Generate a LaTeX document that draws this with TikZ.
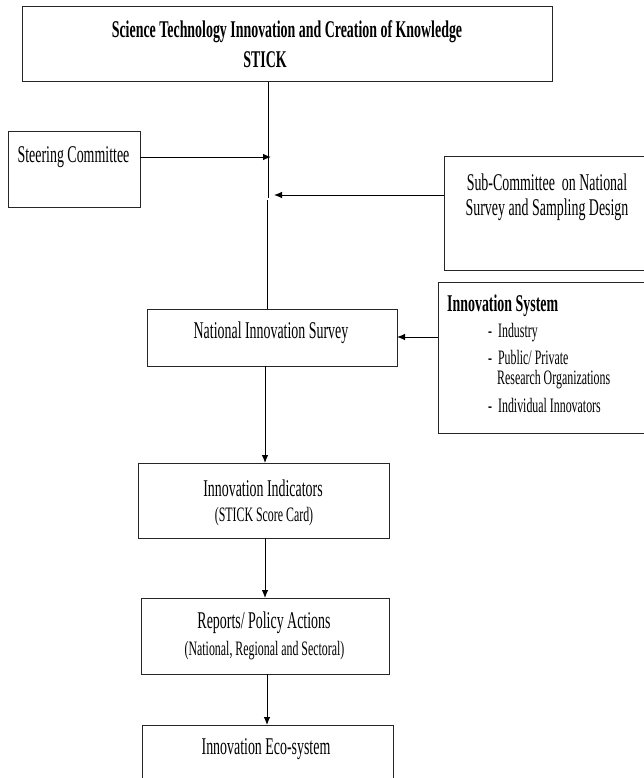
\documentclass[tikz,border=0pt]{standalone}
\usepackage{fontspec}
\setmainfont{Liberation Serif}[FakeStretch=0.58]
\usetikzlibrary{arrows.meta}
\tikzset{
  box/.style={draw=black!85, line width=1pt, inner sep=0pt, outer sep=0pt},
  lbl/.style={inner sep=0pt, font=\fontsize{24}{28}\selectfont},
  lblb/.style={inner sep=0pt, font=\fontsize{24}{28}\selectfont\bfseries},
  lbls/.style={inner sep=0pt, font=\fontsize{20.5}{24}\selectfont},
  conn/.style={draw=black, line width=0.9pt},
  arr/.style={conn, -{Latex[length=8pt,width=6.5pt]}}
}
\begin{document}
\begin{tikzpicture}[x=1pt,y=-1pt]
\clip (0,0) rectangle (644,778);
% boxes
\node[box, minimum width=530pt, minimum height=75pt] (top) at (287,44.5) {};
\node[box, minimum width=132pt, minimum height=75pt] (steer) at (74,169.5) {};
\node[box, minimum width=206pt, minimum height=113pt] (sub) at (547,213.5) {};
\node[box, minimum width=212pt, minimum height=151pt] (isys) at (544,357.5) {};
\node[box, minimum width=250pt, minimum height=57pt] (nis) at (272,337.5) {};
\node[box, minimum width=251pt, minimum height=75pt] (ind) at (263.5,500.5) {};
\node[box, minimum width=248pt, minimum height=76pt] (rep) at (265,636) {};
\node[box, minimum width=251pt, minimum height=75pt] (eco) at (267.5,762.5) {};
% texts
\node[lblb] (t1) at (287,32) {Science Technology Innovation and Creation of Knowledge};
\node[lblb] (t2) at (265,60) {STICK};
\node[lbl] (t3) at (73.5,157) {Steering Committee};
\node[lbl] (t4) at (547,182) {Sub-Committee\ \ on National};
\node[lbl] (t5) at (547,210) {Survey and Sampling Design};
\node[lblb, anchor=west] (t6) at (447,306) {Innovation System};
\node[lbls, anchor=west] (t7) at (488,333) {-\ \ Industry};
\node[lbls, anchor=west] (t8) at (488,357) {-\ \ Public/ Private};
\node[lbls, anchor=west] (t9) at (497,380) {Research Organizations};
\node[lbls, anchor=west] (t10) at (488,405) {-\ \ Individual Innovators};
\node[lbl] (t11) at (271,333) {National Innovation Survey};
\node[lbl] (t12) at (263,488) {Innovation Indicators};
\node[lbls] (t13) at (264,517) {(STICK Score Card)};
\node[lbl] (t14) at (264,623) {Reports/ Policy Actions};
\node[lbls] (t15) at (264.5,651) {(National, Regional and Sectoral)};
\node[lbl] (t16) at (266,749) {Innovation Eco-system};
% connector points
\coordinate (v1) at (268,198);
\coordinate (v2) at (267.5,200);
\coordinate (st) at (271,157);
\coordinate (sb) at (274,195);
\coordinate (isy) at (0,337);
\coordinate (c1) at (265,0);
\coordinate (c2) at (267,0);
% connectors
\draw[conn] (top.south -| v1) -- (v1);
\draw[conn] (v2) -- (v2 |- nis.north);
\draw[arr] (steer.east |- st) -- (st);
\draw[arr] (sub.west |- sb) -- (sb);
\draw[arr] (isys.west |- isy) -- (nis.east |- isy);
\draw[arr] (nis.south -| c1) -- (ind.north -| c1);
\draw[arr] (ind.south -| c1) -- (rep.north -| c1);
\draw[arr] (rep.south -| c2) -- (eco.north -| c2);
\end{tikzpicture}
\end{document}
